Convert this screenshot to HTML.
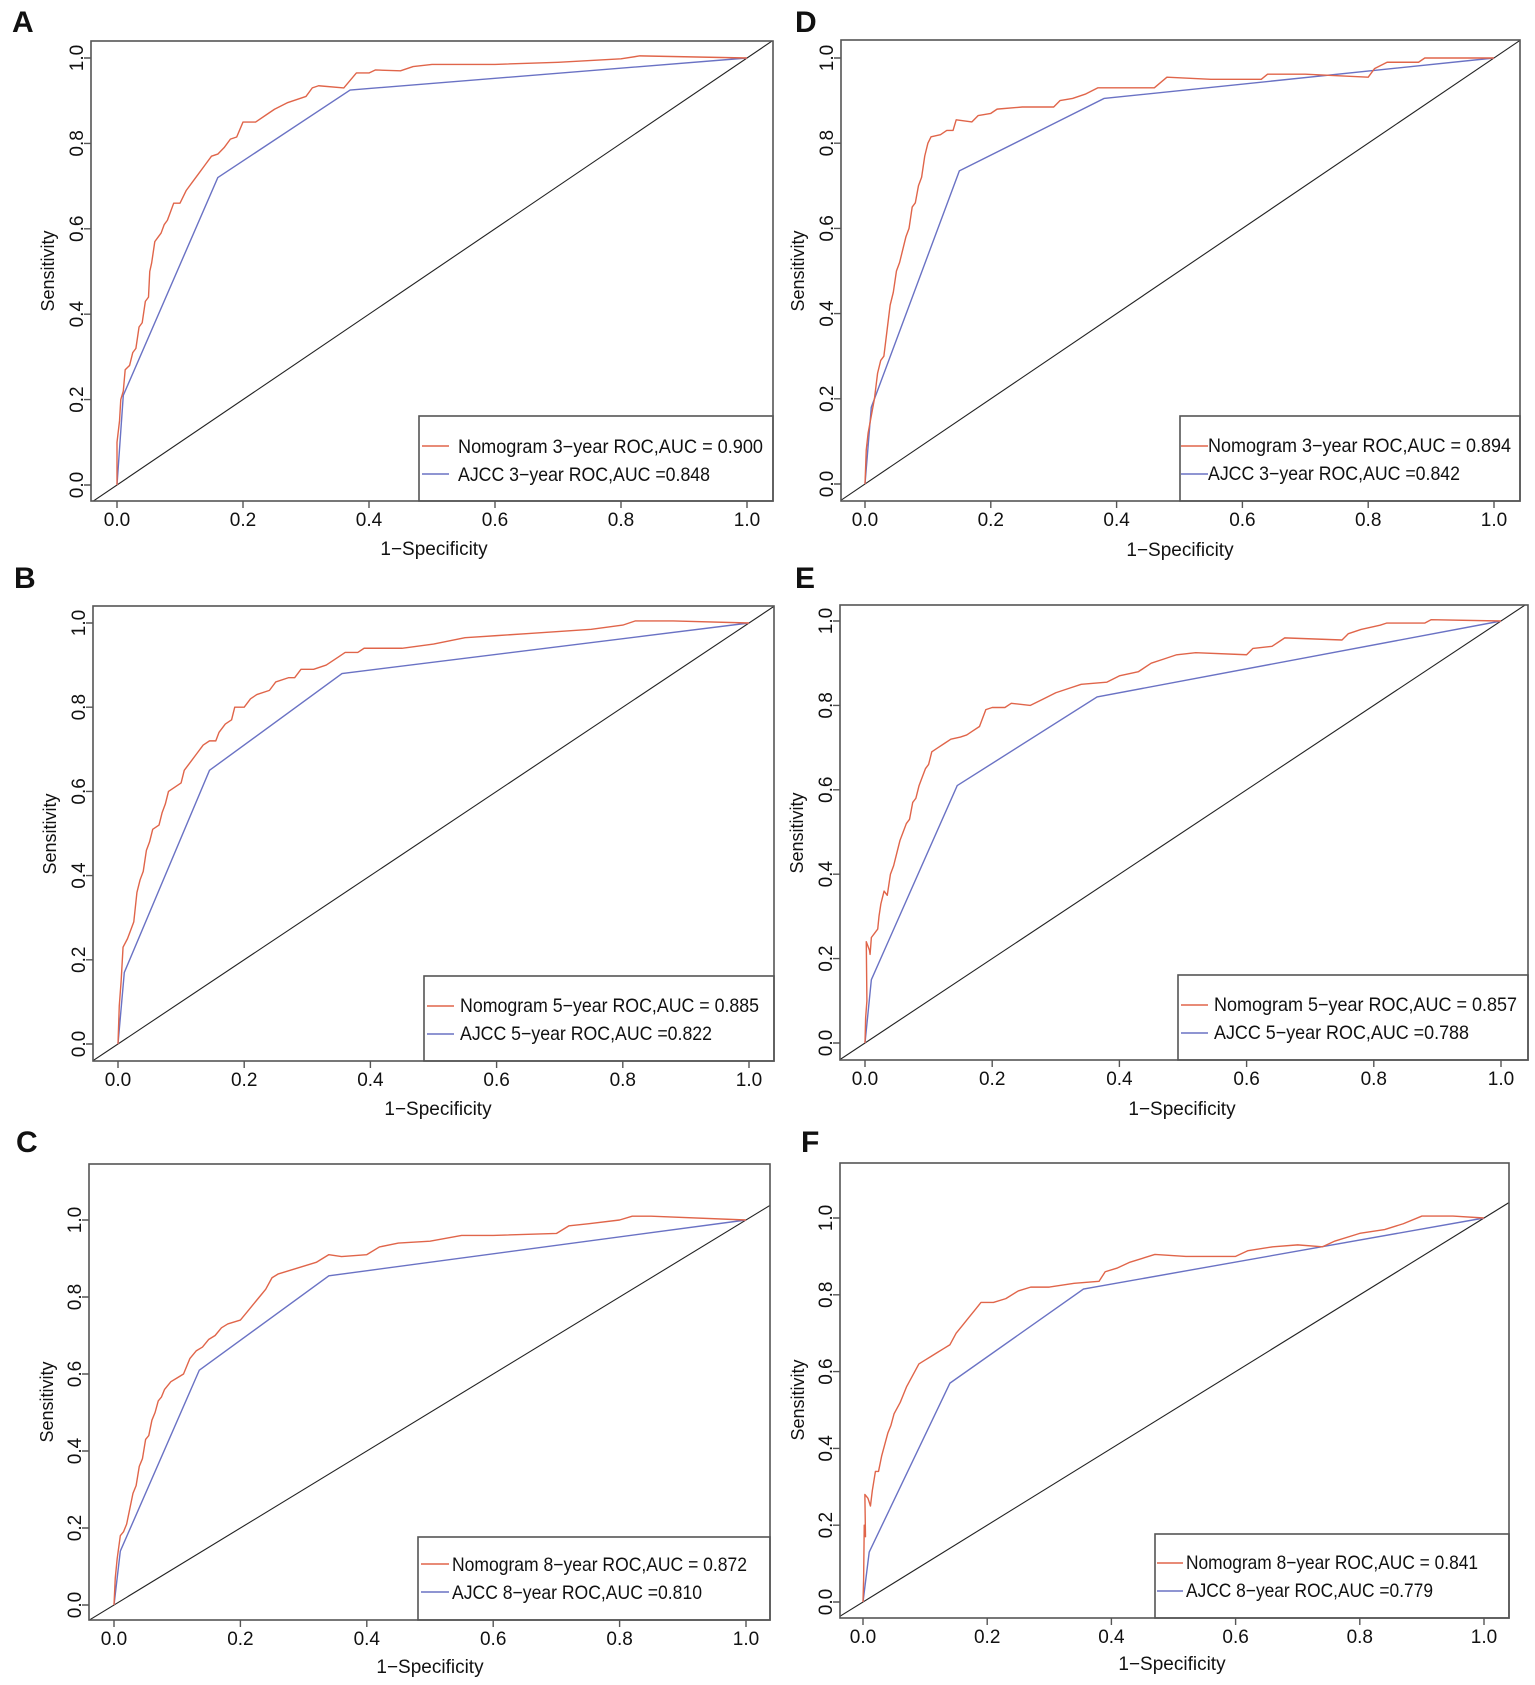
<!DOCTYPE html>
<html><head><meta charset="utf-8"><style>
html,body{margin:0;padding:0;background:#fff}
svg{display:block}
text{font-family:"Liberation Sans",Arial,sans-serif;fill:#111}
.box{fill:none;stroke:#555;stroke-width:1.6}
.ax{stroke:#555;stroke-width:1.4;fill:none}
.nom{fill:none;stroke:#e0654a;stroke-width:1.4;vector-effect:non-scaling-stroke;stroke-linejoin:round}
.aj{fill:none;stroke:#6a72c4;stroke-width:1.4;vector-effect:non-scaling-stroke}
.dg{fill:none;stroke:#222;stroke-width:1.1;vector-effect:non-scaling-stroke}
.tk{font-size:19px}
.yt{font-size:19px}
.lg{font-size:19.5px}
.lt{font-size:30px;font-weight:bold}
</style></head><body>
<svg width="1535" height="1685" viewBox="0 0 1535 1685" xmlns="http://www.w3.org/2000/svg">
<defs>
<clipPath id="cA"><rect x="91" y="41" width="682" height="460"/></clipPath>
<clipPath id="cD"><rect x="841" y="40" width="679" height="461"/></clipPath>
<clipPath id="cB"><rect x="93" y="606" width="681" height="455"/></clipPath>
<clipPath id="cE"><rect x="840" y="605" width="688" height="455"/></clipPath>
<clipPath id="cC"><rect x="89" y="1164" width="681" height="456"/></clipPath>
<clipPath id="cF"><rect x="840" y="1163" width="669" height="455"/></clipPath>
</defs>

<!-- ===== A ===== -->
<text class="lt" x="12" y="32">A</text>
<g clip-path="url(#cA)"><g transform="translate(117 485) scale(630 -427)">
<polyline class="dg" points="-0.2,-0.2 1.3,1.3"/>
<polyline class="aj" points="0,0 0.01,0.21 0.16,0.72 0.37,0.925 1,1"/>
<polyline class="nom" points="0,0 0,0.1 0.004,0.15 0.006,0.2 0.01,0.22 0.013,0.27 0.02,0.28 0.025,0.31 0.03,0.32 0.035,0.37 0.04,0.38 0.045,0.43 0.05,0.44 0.052,0.5 0.055,0.52 0.06,0.57 0.065,0.58 0.07,0.59 0.075,0.61 0.08,0.62 0.085,0.64 0.09,0.66 0.1,0.66 0.11,0.69 0.12,0.71 0.13,0.73 0.14,0.75 0.15,0.77 0.16,0.775 0.17,0.79 0.18,0.81 0.19,0.815 0.2,0.85 0.22,0.85 0.24,0.87 0.25,0.88 0.27,0.895 0.29,0.905 0.3,0.91 0.31,0.93 0.32,0.935 0.36,0.93 0.38,0.965 0.4,0.965 0.41,0.972 0.45,0.97 0.47,0.98 0.5,0.985 0.6,0.985 0.7,0.99 0.8,0.998 0.83,1.005 1,1"/>
</g></g>
<rect class="box" x="91" y="41" width="682" height="460"/>
<rect class="box" x="419" y="416" width="354" height="85"/>
<line x1="422" y1="446" x2="449" y2="446" stroke="#e0654a" stroke-width="1.5"/>
<line x1="422" y1="474" x2="449" y2="474" stroke="#6a72c4" stroke-width="1.5"/>
<text class="lg" x="458" y="453" textLength="305" lengthAdjust="spacingAndGlyphs">Nomogram 3−year ROC,AUC =  0.900</text>
<text class="lg" x="458" y="481" textLength="252" lengthAdjust="spacingAndGlyphs">AJCC 3−year ROC,AUC =0.848</text>
<path class="ax" d="M117 501v7M243 501v7M369 501v7M495 501v7M621 501v7M747 501v7M91 485h-7M91 399.6h-7M91 314.2h-7M91 228.8h-7M91 143.4h-7M91 58h-7"/>
<g class="tk" text-anchor="middle"><text x="117" y="526">0.0</text><text x="243" y="526">0.2</text><text x="369" y="526">0.4</text><text x="495" y="526">0.6</text><text x="621" y="526">0.8</text><text x="747" y="526">1.0</text></g>
<g class="yt" text-anchor="middle"><text transform="translate(83 485) rotate(-90)">0.0</text><text transform="translate(83 399.6) rotate(-90)">0.2</text><text transform="translate(83 314.2) rotate(-90)">0.4</text><text transform="translate(83 228.8) rotate(-90)">0.6</text><text transform="translate(83 143.4) rotate(-90)">0.8</text><text transform="translate(83 58) rotate(-90)">1.0</text></g>
<text class="tk" x="434" y="555" text-anchor="middle">1−Specificity</text>
<text class="tk" style="font-size:18px" transform="translate(54 271) rotate(-90)" text-anchor="middle">Sensitivity</text>

<!-- ===== D ===== -->
<text class="lt" x="795" y="32">D</text>
<g clip-path="url(#cD)"><g transform="translate(865 484) scale(629 -426)">
<polyline class="dg" points="-0.2,-0.2 1.3,1.3"/>
<polyline class="aj" points="0,0 0.01,0.18 0.15,0.735 0.38,0.905 1,1"/>
<polyline class="nom" points="0,0 0.002,0.08 0.005,0.12 0.01,0.16 0.015,0.2 0.02,0.26 0.025,0.29 0.03,0.3 0.035,0.36 0.04,0.42 0.045,0.45 0.05,0.5 0.055,0.52 0.06,0.55 0.065,0.58 0.07,0.6 0.075,0.65 0.08,0.66 0.085,0.7 0.09,0.72 0.095,0.77 0.1,0.8 0.105,0.815 0.12,0.82 0.13,0.83 0.14,0.83 0.145,0.855 0.17,0.85 0.18,0.865 0.2,0.87 0.21,0.88 0.25,0.885 0.3,0.885 0.31,0.9 0.33,0.905 0.35,0.915 0.37,0.93 0.4,0.93 0.46,0.93 0.48,0.955 0.55,0.95 0.63,0.95 0.64,0.962 0.7,0.962 0.8,0.955 0.81,0.975 0.83,0.99 0.88,0.99 0.89,1.0 1,1"/>
</g></g>
<rect class="box" x="841" y="40" width="679" height="461"/>
<rect class="box" x="1180" y="416" width="340" height="85"/>
<line x1="1181" y1="446" x2="1208" y2="446" stroke="#e0654a" stroke-width="1.5"/>
<line x1="1181" y1="474" x2="1208" y2="474" stroke="#6a72c4" stroke-width="1.5"/>
<text class="lg" x="1208" y="452" textLength="303" lengthAdjust="spacingAndGlyphs">Nomogram 3−year ROC,AUC =  0.894</text>
<text class="lg" x="1208" y="480" textLength="252" lengthAdjust="spacingAndGlyphs">AJCC 3−year ROC,AUC =0.842</text>
<path class="ax" d="M865 501v7M990.8 501v7M1116.6 501v7M1242.4 501v7M1368.2 501v7M1494 501v7M841 484h-7M841 398.8h-7M841 313.6h-7M841 228.4h-7M841 143.2h-7M841 58h-7"/>
<g class="tk" text-anchor="middle"><text x="865" y="526">0.0</text><text x="990.8" y="526">0.2</text><text x="1116.6" y="526">0.4</text><text x="1242.4" y="526">0.6</text><text x="1368.2" y="526">0.8</text><text x="1494" y="526">1.0</text></g>
<g class="yt" text-anchor="middle"><text transform="translate(833 484) rotate(-90)">0.0</text><text transform="translate(833 398.8) rotate(-90)">0.2</text><text transform="translate(833 313.6) rotate(-90)">0.4</text><text transform="translate(833 228.4) rotate(-90)">0.6</text><text transform="translate(833 143.2) rotate(-90)">0.8</text><text transform="translate(833 58) rotate(-90)">1.0</text></g>
<text class="tk" x="1180" y="556" text-anchor="middle">1−Specificity</text>
<text class="tk" style="font-size:18px" transform="translate(804 271) rotate(-90)" text-anchor="middle">Sensitivity</text>

<!-- ===== B ===== -->
<text class="lt" x="14" y="588">B</text>
<g clip-path="url(#cB)"><g transform="translate(118 1044) scale(631 -421)">
<polyline class="dg" points="-0.2,-0.2 1.3,1.3"/>
<polyline class="aj" points="0,0 0.01,0.17 0.145,0.65 0.355,0.88 1,1"/>
<polyline class="nom" points="0,0 0.002,0.09 0.005,0.15 0.008,0.23 0.015,0.25 0.02,0.27 0.025,0.29 0.03,0.36 0.035,0.39 0.04,0.41 0.045,0.46 0.05,0.48 0.055,0.51 0.065,0.52 0.07,0.55 0.075,0.57 0.08,0.6 0.09,0.61 0.1,0.62 0.105,0.65 0.115,0.67 0.125,0.69 0.135,0.71 0.145,0.72 0.155,0.72 0.16,0.74 0.17,0.76 0.18,0.77 0.185,0.8 0.2,0.8 0.21,0.82 0.22,0.83 0.24,0.84 0.25,0.86 0.27,0.87 0.28,0.87 0.29,0.89 0.31,0.89 0.33,0.9 0.35,0.92 0.36,0.93 0.38,0.93 0.39,0.94 0.45,0.94 0.5,0.95 0.55,0.965 0.6,0.97 0.65,0.975 0.7,0.98 0.75,0.985 0.8,0.995 0.82,1.005 0.88,1.005 1,1"/>
</g></g>
<rect class="box" x="93" y="606" width="681" height="455"/>
<rect class="box" x="424" y="976" width="350" height="85"/>
<line x1="427" y1="1006" x2="454" y2="1006" stroke="#e0654a" stroke-width="1.5"/>
<line x1="427" y1="1034" x2="454" y2="1034" stroke="#6a72c4" stroke-width="1.5"/>
<text class="lg" x="460" y="1012" textLength="299" lengthAdjust="spacingAndGlyphs">Nomogram 5−year ROC,AUC = 0.885</text>
<text class="lg" x="460" y="1040" textLength="252" lengthAdjust="spacingAndGlyphs">AJCC 5−year ROC,AUC =0.822</text>
<path class="ax" d="M118 1061v7M244.2 1061v7M370.4 1061v7M496.6 1061v7M622.8 1061v7M749 1061v7M93 1044h-7M93 959.8h-7M93 875.6h-7M93 791.4h-7M93 707.2h-7M93 623h-7"/>
<g class="tk" text-anchor="middle"><text x="118" y="1086">0.0</text><text x="244.2" y="1086">0.2</text><text x="370.4" y="1086">0.4</text><text x="496.6" y="1086">0.6</text><text x="622.8" y="1086">0.8</text><text x="749" y="1086">1.0</text></g>
<g class="yt" text-anchor="middle"><text transform="translate(85 1044) rotate(-90)">0.0</text><text transform="translate(85 959.8) rotate(-90)">0.2</text><text transform="translate(85 875.6) rotate(-90)">0.4</text><text transform="translate(85 791.4) rotate(-90)">0.6</text><text transform="translate(85 707.2) rotate(-90)">0.8</text><text transform="translate(85 623) rotate(-90)">1.0</text></g>
<text class="tk" x="438" y="1115" text-anchor="middle">1−Specificity</text>
<text class="tk" style="font-size:18px" transform="translate(56 834) rotate(-90)" text-anchor="middle">Sensitivity</text>

<!-- ===== E ===== -->
<text class="lt" x="795" y="588">E</text>
<g clip-path="url(#cE)"><g transform="translate(865 1043) scale(636 -422)">
<polyline class="dg" points="-0.2,-0.2 1.3,1.3"/>
<polyline class="aj" points="0,0 0.01,0.15 0.145,0.61 0.365,0.82 1,1"/>
<polyline class="nom" points="0,0 0.001,0.06 0.003,0.1 0.002,0.24 0.007,0.22 0.008,0.21 0.01,0.25 0.015,0.26 0.02,0.27 0.022,0.3 0.025,0.33 0.03,0.36 0.035,0.35 0.04,0.4 0.045,0.42 0.05,0.45 0.055,0.48 0.06,0.5 0.065,0.52 0.07,0.53 0.075,0.57 0.08,0.58 0.085,0.61 0.09,0.63 0.095,0.65 0.1,0.66 0.105,0.69 0.115,0.7 0.125,0.71 0.135,0.72 0.15,0.725 0.16,0.73 0.17,0.74 0.18,0.75 0.19,0.79 0.2,0.795 0.22,0.795 0.23,0.805 0.26,0.8 0.28,0.815 0.3,0.83 0.32,0.84 0.34,0.85 0.38,0.855 0.4,0.87 0.43,0.88 0.45,0.9 0.47,0.91 0.49,0.92 0.52,0.925 0.6,0.92 0.61,0.935 0.64,0.94 0.66,0.96 0.75,0.955 0.76,0.97 0.78,0.98 0.81,0.99 0.82,0.995 0.88,0.995 0.89,1.003 1,1"/>
</g></g>
<rect class="box" x="840" y="605" width="688" height="455"/>
<rect class="box" x="1178" y="975" width="350" height="85"/>
<line x1="1181" y1="1005" x2="1208" y2="1005" stroke="#e0654a" stroke-width="1.5"/>
<line x1="1181" y1="1033" x2="1208" y2="1033" stroke="#6a72c4" stroke-width="1.5"/>
<text class="lg" x="1214" y="1011" textLength="303" lengthAdjust="spacingAndGlyphs">Nomogram 5−year ROC,AUC = 0.857</text>
<text class="lg" x="1214" y="1039" textLength="255" lengthAdjust="spacingAndGlyphs">AJCC 5−year ROC,AUC =0.788</text>
<path class="ax" d="M865 1060v7M992.2 1060v7M1119.4 1060v7M1246.6 1060v7M1373.8 1060v7M1501 1060v7M840 1043h-7M840 958.6h-7M840 874.2h-7M840 789.8h-7M840 705.4h-7M840 621h-7"/>
<g class="tk" text-anchor="middle"><text x="865" y="1085">0.0</text><text x="992.2" y="1085">0.2</text><text x="1119.4" y="1085">0.4</text><text x="1246.6" y="1085">0.6</text><text x="1373.8" y="1085">0.8</text><text x="1501" y="1085">1.0</text></g>
<g class="yt" text-anchor="middle"><text transform="translate(832 1043) rotate(-90)">0.0</text><text transform="translate(832 958.6) rotate(-90)">0.2</text><text transform="translate(832 874.2) rotate(-90)">0.4</text><text transform="translate(832 789.8) rotate(-90)">0.6</text><text transform="translate(832 705.4) rotate(-90)">0.8</text><text transform="translate(832 621) rotate(-90)">1.0</text></g>
<text class="tk" x="1182" y="1115" text-anchor="middle">1−Specificity</text>
<text class="tk" style="font-size:18px" transform="translate(803 833) rotate(-90)" text-anchor="middle">Sensitivity</text>

<!-- ===== C ===== -->
<text class="lt" x="16" y="1152">C</text>
<g clip-path="url(#cC)"><g transform="translate(114 1605) scale(632 -385)">
<polyline class="dg" points="-0.2,-0.2 1.3,1.3"/>
<polyline class="aj" points="0,0 0.01,0.14 0.135,0.61 0.34,0.855 1,1"/>
<polyline class="nom" points="0,0 0.002,0.07 0.005,0.12 0.01,0.18 0.015,0.19 0.02,0.21 0.025,0.25 0.03,0.29 0.035,0.31 0.04,0.36 0.045,0.38 0.05,0.43 0.055,0.44 0.06,0.48 0.065,0.5 0.07,0.53 0.075,0.54 0.08,0.56 0.09,0.58 0.1,0.59 0.11,0.6 0.12,0.64 0.13,0.66 0.14,0.67 0.15,0.69 0.16,0.7 0.17,0.72 0.18,0.73 0.2,0.74 0.21,0.76 0.22,0.78 0.23,0.8 0.24,0.82 0.25,0.85 0.26,0.86 0.28,0.87 0.3,0.88 0.32,0.89 0.34,0.91 0.36,0.905 0.4,0.91 0.42,0.93 0.45,0.94 0.5,0.945 0.55,0.96 0.6,0.96 0.7,0.965 0.72,0.985 0.75,0.99 0.8,1.0 0.82,1.01 0.85,1.01 1,1"/>
</g></g>
<rect class="box" x="89" y="1164" width="681" height="456"/>
<rect class="box" x="418" y="1537" width="352" height="83"/>
<line x1="421" y1="1564" x2="449" y2="1564" stroke="#e0654a" stroke-width="1.5"/>
<line x1="421" y1="1592" x2="449" y2="1592" stroke="#6a72c4" stroke-width="1.5"/>
<text class="lg" x="452" y="1571" textLength="295" lengthAdjust="spacingAndGlyphs">Nomogram 8−year ROC,AUC = 0.872</text>
<text class="lg" x="452" y="1599" textLength="250" lengthAdjust="spacingAndGlyphs">AJCC 8−year ROC,AUC =0.810</text>
<path class="ax" d="M114 1620v7M240.4 1620v7M366.8 1620v7M493.2 1620v7M619.6 1620v7M746 1620v7M89 1605h-7M89 1528h-7M89 1451h-7M89 1374h-7M89 1297h-7M89 1220h-7"/>
<g class="tk" text-anchor="middle"><text x="114" y="1645">0.0</text><text x="240.4" y="1645">0.2</text><text x="366.8" y="1645">0.4</text><text x="493.2" y="1645">0.6</text><text x="619.6" y="1645">0.8</text><text x="746" y="1645">1.0</text></g>
<g class="yt" text-anchor="middle"><text transform="translate(81 1605) rotate(-90)">0.0</text><text transform="translate(81 1528) rotate(-90)">0.2</text><text transform="translate(81 1451) rotate(-90)">0.4</text><text transform="translate(81 1374) rotate(-90)">0.6</text><text transform="translate(81 1297) rotate(-90)">0.8</text><text transform="translate(81 1220) rotate(-90)">1.0</text></g>
<text class="tk" x="430" y="1673" text-anchor="middle">1−Specificity</text>
<text class="tk" style="font-size:18px" transform="translate(53 1402) rotate(-90)" text-anchor="middle">Sensitivity</text>

<!-- ===== F ===== -->
<text class="lt" x="801" y="1152">F</text>
<g clip-path="url(#cF)"><g transform="translate(863 1602) scale(621 -384)">
<polyline class="dg" points="-0.2,-0.2 1.3,1.3"/>
<polyline class="aj" points="0,0 0.01,0.13 0.14,0.57 0.355,0.815 1,1"/>
<polyline class="nom" points="0,0 0.001,0.06 0.002,0.2 0.004,0.17 0.003,0.28 0.008,0.27 0.012,0.25 0.015,0.29 0.02,0.34 0.025,0.34 0.03,0.38 0.035,0.41 0.04,0.44 0.045,0.46 0.05,0.49 0.06,0.52 0.07,0.56 0.08,0.59 0.09,0.62 0.1,0.63 0.11,0.64 0.12,0.65 0.13,0.66 0.14,0.67 0.15,0.7 0.16,0.72 0.17,0.74 0.18,0.76 0.19,0.78 0.21,0.78 0.23,0.79 0.25,0.81 0.27,0.82 0.3,0.82 0.32,0.825 0.34,0.83 0.38,0.835 0.39,0.86 0.41,0.87 0.43,0.885 0.47,0.905 0.52,0.9 0.6,0.9 0.62,0.915 0.66,0.925 0.7,0.93 0.74,0.925 0.76,0.94 0.8,0.96 0.84,0.97 0.87,0.985 0.9,1.005 0.95,1.005 1,1"/>
</g></g>
<rect class="box" x="840" y="1163" width="669" height="455"/>
<rect class="box" x="1155" y="1534" width="354" height="84"/>
<line x1="1157" y1="1563" x2="1183" y2="1563" stroke="#e0654a" stroke-width="1.5"/>
<line x1="1157" y1="1591" x2="1183" y2="1591" stroke="#6a72c4" stroke-width="1.5"/>
<text class="lg" x="1186" y="1569" textLength="292" lengthAdjust="spacingAndGlyphs">Nomogram 8−year ROC,AUC = 0.841</text>
<text class="lg" x="1186" y="1597" textLength="247" lengthAdjust="spacingAndGlyphs">AJCC 8−year ROC,AUC =0.779</text>
<path class="ax" d="M863 1618v7M987.2 1618v7M1111.4 1618v7M1235.6 1618v7M1359.8 1618v7M1484 1618v7M840 1602h-7M840 1525.2h-7M840 1448.4h-7M840 1371.6h-7M840 1294.8h-7M840 1218h-7"/>
<g class="tk" text-anchor="middle"><text x="863" y="1643">0.0</text><text x="987.2" y="1643">0.2</text><text x="1111.4" y="1643">0.4</text><text x="1235.6" y="1643">0.6</text><text x="1359.8" y="1643">0.8</text><text x="1484" y="1643">1.0</text></g>
<g class="yt" text-anchor="middle"><text transform="translate(832 1602) rotate(-90)">0.0</text><text transform="translate(832 1525.2) rotate(-90)">0.2</text><text transform="translate(832 1448.4) rotate(-90)">0.4</text><text transform="translate(832 1371.6) rotate(-90)">0.6</text><text transform="translate(832 1294.8) rotate(-90)">0.8</text><text transform="translate(832 1218) rotate(-90)">1.0</text></g>
<text class="tk" x="1172" y="1670" text-anchor="middle">1−Specificity</text>
<text class="tk" style="font-size:18px" transform="translate(804 1400) rotate(-90)" text-anchor="middle">Sensitivity</text>
</svg>
</body></html>
